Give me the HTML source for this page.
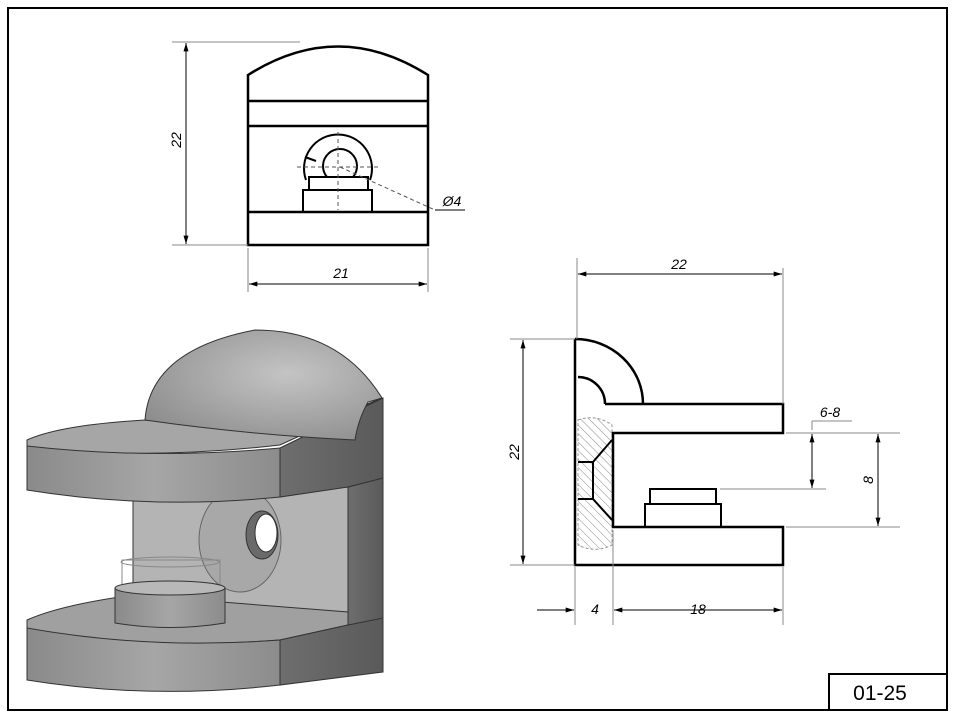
<!DOCTYPE html>
<html><head><meta charset="utf-8"><style>
html,body{margin:0;padding:0;background:#fff}
svg{display:block}
text{font-family:"Liberation Sans",sans-serif;font-style:italic;fill:#000}
</style></head><body>
<svg width="957" height="719" viewBox="0 0 957 719" xmlns="http://www.w3.org/2000/svg">
<defs>
<marker id="ar" viewBox="0 0 10 6" refX="10" refY="3" markerWidth="12" markerHeight="5" orient="auto-start-reverse" markerUnits="userSpaceOnUse"><path d="M0,0L10,3L0,6z" fill="#000"/></marker>
<linearGradient id="band" x1="0" x2="1"><stop offset="0" stop-color="#8a8a8a"/><stop offset="0.5" stop-color="#a6a6a6"/><stop offset="1" stop-color="#8c8c8c"/></linearGradient>
<radialGradient id="dome" cx="0.6" cy="0.4" r="0.7"><stop offset="0" stop-color="#c4c4c4"/><stop offset="1" stop-color="#8e8e8e"/></radialGradient>
<linearGradient id="col" x1="0" x2="1"><stop offset="0" stop-color="#6e6e6e"/><stop offset="1" stop-color="#5a5a5a"/></linearGradient>
<pattern id="hatch" width="6" height="6" patternUnits="userSpaceOnUse" patternTransform="rotate(-45)"><line x1="0" y1="0" x2="0" y2="6" stroke="#888" stroke-width="1"/></pattern>
</defs>

<rect x="8" y="8" width="939" height="702" fill="none" stroke="#000" stroke-width="2"/>
<rect x="829" y="674" width="118" height="36" fill="none" stroke="#000" stroke-width="2"/>
<text x="880" y="700" font-size="21" text-anchor="middle" style="font-style:normal">01-25</text>

<!-- FRONT VIEW -->
<g fill="none" stroke="#000" stroke-width="2.5">
<path d="M248,75 Q338,18 428,75 L428,245 L248,245 Z"/>
<line x1="248" y1="101" x2="428" y2="101"/>
<line x1="248" y1="126" x2="428" y2="126"/>
<line x1="248" y1="212" x2="428" y2="212"/>
<path d="M306,180 A34,34 0 1 1 370,180" stroke-width="2"/>
<path d="M327,177 A17,17 0 1 1 353,177" stroke-width="2"/>
<path d="M309,190 L309,177 L368,177 L368,190" stroke-width="2"/>
<rect x="303" y="190" width="69" height="22" stroke-width="2"/>
</g>
<line x1="305" y1="157" x2="316" y2="161" stroke="#000" stroke-width="2"/>
<g stroke="#555" stroke-width="1" stroke-dasharray="4,3" fill="none">
<line x1="338" y1="132" x2="338" y2="210"/>
<line x1="297" y1="167" x2="380" y2="167"/>
<line x1="340" y1="167" x2="435" y2="210"/>
</g>
<line x1="435" y1="210" x2="465" y2="210" stroke="#000" stroke-width="1"/>
<text x="452" y="206" font-size="14" text-anchor="middle">Ø4</text>
<g stroke="#888" stroke-width="1">
<line x1="172" y1="42" x2="300" y2="42"/>
<line x1="172" y1="245" x2="248" y2="245"/>
<line x1="248" y1="248" x2="248" y2="292"/>
<line x1="428" y1="248" x2="428" y2="292"/>
</g>
<g stroke="#000" stroke-width="1">
<line x1="186" y1="43" x2="186" y2="244" marker-start="url(#ar)" marker-end="url(#ar)"/>
<line x1="249" y1="284" x2="427" y2="284" marker-start="url(#ar)" marker-end="url(#ar)"/>
</g>
<text x="181" y="140" font-size="14" text-anchor="middle" transform="rotate(-90 181 140)">22</text>
<text x="341" y="278" font-size="14" text-anchor="middle">21</text>

<!-- SIDE VIEW -->
<path d="M578,420 A36,36 0 0 1 612,425 L612,545 A36,36 0 0 1 578,545 Z" fill="url(#hatch)" stroke="#999" stroke-dasharray="3,2" stroke-width="1"/>
<path d="M578,462 L593,462 L612,440 M578,499 L593,499 L612,520 M593,462 L593,499" fill="none" stroke="#000" stroke-width="2"/>
<g fill="none" stroke="#000" stroke-width="2.5">
<path d="M575,339 A68,65 0 0 1 643,404"/>
<path d="M578,377 A27,27 0 0 1 605,404"/>
<path d="M575,339 L575,565 L783,565 L783,527 L613,527 L613,433 L783,433 L783,404 L605,404"/>
<rect x="650" y="489" width="66" height="15" stroke-width="2"/>
<rect x="645" y="504" width="76" height="23" stroke-width="2"/>
</g>
<g stroke="#888" stroke-width="1">
<line x1="577" y1="258" x2="577" y2="339"/>
<line x1="783" y1="268" x2="783" y2="404"/>
<line x1="510" y1="339" x2="575" y2="339"/>
<line x1="510" y1="565" x2="575" y2="565"/>
<line x1="575" y1="567" x2="575" y2="625"/>
<line x1="613" y1="530" x2="613" y2="625"/>
<line x1="783" y1="567" x2="783" y2="625"/>
<line x1="786" y1="433" x2="900" y2="433"/>
<line x1="786" y1="527" x2="900" y2="527"/>
<line x1="720" y1="489" x2="826" y2="489"/>
<line x1="812" y1="421" x2="852" y2="421"/>
<line x1="812" y1="421" x2="812" y2="430"/>
</g>
<g stroke="#000" stroke-width="1">
<line x1="578" y1="274" x2="782" y2="274" marker-start="url(#ar)" marker-end="url(#ar)"/>
<line x1="523" y1="340" x2="523" y2="564" marker-start="url(#ar)" marker-end="url(#ar)"/>
<line x1="537" y1="610" x2="574" y2="610" marker-end="url(#ar)"/>
<line x1="614" y1="610" x2="782" y2="610" marker-start="url(#ar)" marker-end="url(#ar)"/>
<line x1="812" y1="434" x2="812" y2="488" marker-start="url(#ar)" marker-end="url(#ar)"/>
<line x1="878" y1="434" x2="878" y2="526" marker-start="url(#ar)" marker-end="url(#ar)"/>
</g>
<text x="679" y="269" font-size="14" text-anchor="middle">22</text>
<text x="519" y="452" font-size="14" text-anchor="middle" transform="rotate(-90 519 452)">22</text>
<text x="595" y="614" font-size="14" text-anchor="middle">4</text>
<text x="698" y="614" font-size="14" text-anchor="middle">18</text>
<text x="830" y="417" font-size="14" text-anchor="middle">6-8</text>
<text x="873" y="480" font-size="14" text-anchor="middle" transform="rotate(-90 873 480)">8</text>

<!-- 3D VIEW -->
<g stroke="#333" stroke-width="1">
<path d="M133,497 L348,487 L348,620 L133,625 Z" fill="#b4b4b4"/>
<ellipse cx="240" cy="540" rx="41" ry="52" fill="#a8a8a8" stroke="#666"/>
<ellipse cx="262" cy="535" rx="16" ry="24" fill="#6a6a6a"/>
<ellipse cx="266" cy="533" rx="11" ry="19" fill="#fff"/>
<!-- column between plates -->
<path d="M348,487 L383,478 L383,625 L348,625 Z" fill="url(#col)"/>
<!-- lower plate -->
<path d="M27,620 Q60,605 133,595 L348,612 L348,625 L280,640 Q150,650 27,630 Z" fill="#a0a0a0"/>
<path d="M27,628 Q150,650 280,640 L280,685 Q150,700 27,680 Z" fill="url(#band)"/>
<path d="M280,640 L348,625 L383,618 L383,672 L280,685 Z" fill="url(#col)"/>
<!-- pin -->
<rect x="122" y="560" width="98" height="25" fill="none" stroke="#888"/>
<ellipse cx="170" cy="562" rx="49" ry="5" fill="none" stroke="#888"/>
<path d="M115,588 L115,623 Q170,632 225,623 L225,588 Z" fill="url(#band)"/>
<ellipse cx="170" cy="588" rx="55" ry="7" fill="#b8b8b8"/>
<!-- upper plate -->
<path d="M27,440 Q60,425 145,420 L355,440 L365,405 L382,398 L280,445 Q150,460 27,448 Z" fill="#a6a6a6"/>
<path d="M27,446 Q150,460 280,448 L280,497 Q150,510 27,490 Z" fill="url(#band)"/>
<path d="M280,448 L383,398 L383,478 L348,487 L280,497 Z" fill="url(#col)"/>
<!-- dome -->
<path d="M145,420 Q150,350 255,330 Q340,330 382,398 L368,402 Q358,420 355,440 Q250,435 145,420 Z" fill="url(#dome)"/>
</g>
</svg>
</body></html>
